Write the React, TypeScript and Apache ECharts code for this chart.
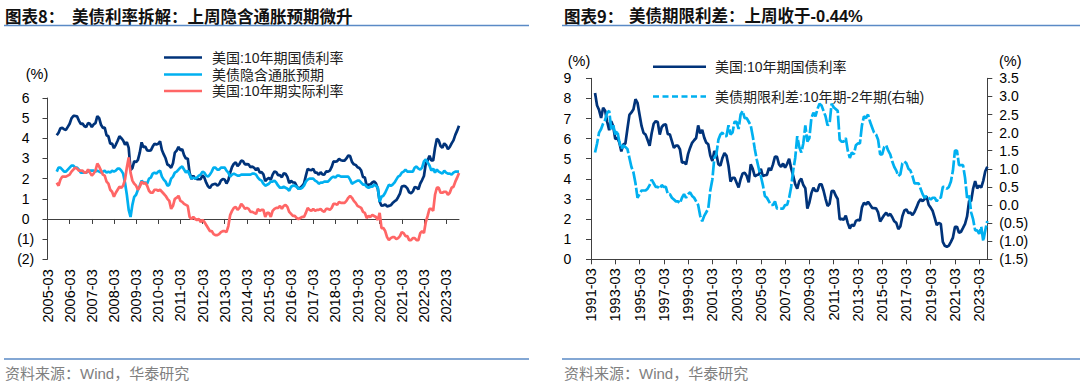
import React, { useEffect, useRef } from "react";
import * as echarts from "echarts";

function buildLabels(y0: number, m0: number, n: number, step: number): string[] {
  const out: string[] = [];
  let y = y0;
  let m = m0;
  for (let i = 0; i < n; i++) {
    out.push(`${y}-${String(m).padStart(2, "0")}`);
    m += step;
    while (m > 12) {
      m -= 12;
      y += 1;
    }
  }
  return out;
}

// ---------- Left chart: monthly, 2005-03 .. 2023-10 ----------
const leftDates = buildLabels(2005, 3, 224, 1);

const us10yLeft = [
  null, null, null, null, null, 4.15, 4.28, 4.50, 4.52, 4.45,
  4.42, 4.57, 4.72, 4.99, 5.11, 5.11, 5.09, 4.88, 4.72, 4.73, 4.60, 4.56,
  4.76, 4.72, 4.56, 4.69, 4.75, 5.10, 5.00, 4.67, 4.52, 4.53, 4.15, 4.10,
  3.74, 3.74, 3.51, 3.68, 3.88, 4.10, 4.01, 3.89, 3.69, 3.81, 3.53, 2.42,
  2.52, 2.87, 2.82, 2.93, 3.29, 3.80, 3.56, 3.59, 3.40, 3.39, 3.40, 3.59,
  3.73, 3.69, 3.73, 3.85, 3.42, 3.20, 3.01, 2.70, 2.65, 2.54, 2.76, 3.29,
  3.39, 3.58, 3.41, 3.46, 3.17, 3.00, 3.00, 2.30, 1.98, 2.15, 2.01, 1.98,
  1.97, 1.97, 2.17, 2.05, 1.80, 1.62, 1.53, 1.68, 1.72, 1.75, 1.65, 1.72,
  1.91, 1.98, 1.96, 1.76, 1.93, 2.30, 2.58, 2.74, 2.81, 2.62, 2.72, 2.90,
  2.86, 2.71, 2.72, 2.71, 2.56, 2.60, 2.54, 2.42, 2.53, 2.30, 2.33, 2.21,
  1.88, 1.98, 2.04, 1.94, 2.20, 2.36, 2.32, 2.17, 2.17, 2.07, 2.26, 2.24,
  2.09, 1.78, 1.89, 1.81, 1.81, 1.64, 1.50, 1.56, 1.63, 1.76, 2.14, 2.49,
  2.43, 2.42, 2.48, 2.30, 2.30, 2.19, 2.32, 2.21, 2.20, 2.36, 2.35, 2.40,
  2.58, 2.86, 2.84, 2.87, 2.98, 2.91, 2.89, 2.89, 3.00, 3.15, 3.12, 2.83,
  2.71, 2.68, 2.57, 2.53, 2.40, 2.07, 2.06, 1.63, 1.70, 1.71, 1.81, 1.86,
  1.76, 1.50, 0.87, 0.66, 0.67, 0.73, 0.62, 0.65, 0.68, 0.79, 0.87, 0.93,
  1.08, 1.26, 1.61, 1.64, 1.62, 1.52, 1.32, 1.28, 1.37, 1.58, 1.56, 1.47,
  1.76, 1.93, 2.13, 2.75, 2.90, 3.14, 2.90, 2.90, 3.52, 3.98, 3.89, 3.62,
  3.53, 3.75, 3.66, 3.46, 3.57, 3.75, 3.90, 4.17, 4.38, 4.62,
];

const breakevenLeft = [
  null, null, null, null, null, 2.35, 2.55, 2.55, 2.45, 2.35,
  2.35, 2.45, 2.55, 2.65, 2.65, 2.55, 2.55, 2.45, 2.30, 2.30, 2.30, 2.30,
  2.35, 2.40, 2.40, 2.40, 2.35, 2.40, 2.35, 2.30, 2.35, 2.40, 2.30, 2.35,
  2.30, 2.40, 2.35, 2.40, 2.50, 2.50, 2.40, 2.25, 1.80, 1.20, 0.45, 0.10,
  0.70, 1.10, 1.20, 1.45, 1.65, 1.90, 1.80, 1.80, 1.75, 2.00, 2.05, 2.25,
  2.30, 2.25, 2.35, 2.40, 2.10, 1.95, 1.85, 1.65, 1.70, 2.00, 2.10, 2.30,
  2.35, 2.45, 2.55, 2.60, 2.45, 2.30, 2.40, 2.20, 2.00, 2.05, 2.00, 2.05,
  2.15, 2.20, 2.35, 2.30, 2.15, 2.10, 2.20, 2.35, 2.55, 2.55, 2.45, 2.45,
  2.55, 2.55, 2.55, 2.40, 2.30, 2.10, 2.20, 2.25, 2.20, 2.15, 2.15, 2.20,
  2.20, 2.20, 2.20, 2.20, 2.20, 2.25, 2.25, 2.20, 2.05, 1.95, 1.90, 1.75,
  1.65, 1.70, 1.75, 1.85, 1.85, 1.90, 1.80, 1.65, 1.55, 1.55, 1.60, 1.55,
  1.50, 1.40, 1.60, 1.65, 1.65, 1.60, 1.50, 1.50, 1.55, 1.65, 1.85, 1.95,
  2.00, 2.00, 2.00, 1.90, 1.85, 1.75, 1.80, 1.80, 1.85, 1.85, 1.85, 1.95,
  2.05, 2.10, 2.05, 2.15, 2.15, 2.10, 2.10, 2.10, 2.10, 2.10, 1.95, 1.75,
  1.80, 1.85, 1.90, 1.90, 1.80, 1.70, 1.70, 1.60, 1.55, 1.60, 1.60, 1.70,
  1.65, 1.55, 0.85, 1.10, 1.15, 1.30, 1.50, 1.70, 1.65, 1.70, 1.80, 1.95,
  2.10, 2.15, 2.30, 2.35, 2.45, 2.35, 2.35, 2.35, 2.35, 2.55, 2.60, 2.50,
  2.45, 2.55, 2.85, 2.95, 2.80, 2.65, 2.40, 2.50, 2.30, 2.45, 2.35, 2.30,
  2.25, 2.40, 2.30, 2.25, 2.25, 2.20, 2.30, 2.35, 2.35, 2.35,
];

const realLeft = [
  null, null, null, null, null, 1.80, 1.65, 1.95, 2.10, 2.10,
  2.10, 2.15, 2.20, 2.35, 2.45, 2.55, 2.50, 2.40, 2.40, 2.40, 2.30, 2.30,
  2.45, 2.30, 2.15, 2.25, 2.40, 2.75, 2.60, 2.40, 2.20, 2.15, 1.85, 1.75,
  1.45, 1.35, 1.10, 1.30, 1.45, 1.60, 1.55, 1.65, 1.95, 2.55, 3.05, 2.30,
  1.90, 1.75, 1.65, 1.45, 1.60, 1.85, 1.75, 1.80, 1.65, 1.40, 1.30, 1.30,
  1.45, 1.45, 1.40, 1.45, 1.35, 1.25, 1.15, 1.00, 0.90, 0.50, 0.65, 1.00,
  1.05, 1.15, 0.90, 0.85, 0.75, 0.70, 0.65, 0.10, 0.00, 0.10, 0.00, -0.05,
  0.00, -0.15, -0.05, -0.15, -0.30, -0.45, -0.60, -0.60, -0.75, -0.80, -0.80, -0.75,
  -0.65, -0.60, -0.60, -0.65, -0.35, 0.20, 0.40, 0.55, 0.60, 0.45, 0.55, 0.75,
  0.65, 0.50, 0.55, 0.50, 0.35, 0.35, 0.30, 0.25, 0.50, 0.40, 0.45, 0.45,
  0.10, 0.30, 0.30, 0.10, 0.40, 0.50, 0.55, 0.55, 0.65, 0.50, 0.65, 0.70,
  0.60, 0.35, 0.25, 0.15, 0.15, 0.05, 0.00, 0.05, 0.10, 0.10, 0.30, 0.55,
  0.45, 0.40, 0.50, 0.40, 0.45, 0.45, 0.50, 0.40, 0.35, 0.50, 0.50, 0.45,
  0.55, 0.75, 0.75, 0.70, 0.85, 0.80, 0.80, 0.80, 0.90, 1.05, 1.15, 1.05,
  0.90, 0.80, 0.65, 0.60, 0.55, 0.35, 0.30, 0.05, 0.15, 0.10, 0.20, 0.15,
  0.10, -0.05, 0.30, -0.45, -0.45, -0.60, -0.90, -1.05, -0.95, -0.90, -0.90, -1.00,
  -0.95, -0.85, -0.65, -0.70, -0.85, -0.85, -1.05, -1.05, -0.95, -0.95, -1.05, -1.05,
  -0.70, -0.60, -0.70, -0.15, 0.15, 0.50, 0.50, 0.40, 1.20, 1.55, 1.55, 1.30,
  1.30, 1.35, 1.35, 1.20, 1.30, 1.55, 1.60, 1.85, 2.05, 2.28,
];

// ---------- Right chart: every two months, 1991-03 .. 2023-11 ----------
const rightDates = buildLabels(1991, 3, 197, 2);

const us10yRight = [
  null, null, 8.27, 7.65, 7.42,
  7.03, 7.54, 7.39, 6.84, 6.42, 6.87,
  6.60, 5.98, 6.04, 5.81, 5.36, 5.72,
  5.75, 6.48, 7.18, 7.30, 7.46, 7.96,
  7.78, 7.20, 6.63, 6.28, 6.20, 5.93,
  5.65, 6.27, 6.74, 6.87, 6.83, 6.20,
  6.58, 6.69, 6.71, 6.22, 6.21, 5.88,
  5.54, 5.65, 5.65, 5.46, 4.81, 4.83,
  4.72, 5.23, 5.54, 5.79, 5.92, 6.03,
  6.66, 6.26, 6.44, 6.05, 5.80, 5.72,
  5.16, 4.89, 5.39, 5.24, 4.73, 4.65,
  5.04, 5.28, 5.16, 4.65, 3.87, 4.05,
  4.05, 3.81, 3.57, 3.98, 4.27, 4.30,
  4.15, 3.83, 4.72, 4.50, 4.13, 4.19,
  4.22, 4.50, 4.14, 4.18, 4.20, 4.54,
  4.42, 4.72, 5.11, 5.09, 4.72, 4.60,
  4.76, 4.56, 4.75, 5.00, 4.52, 4.15,
  3.74, 3.51, 3.88, 4.01, 3.69, 3.53,
  2.52, 2.82, 3.29, 3.56, 3.40, 3.40,
  3.73, 3.73, 3.42, 3.01, 2.65, 2.76,
  3.39, 3.41, 3.17, 3.00, 1.98, 2.01,
  1.97, 2.17, 1.80, 1.53, 1.72, 1.65,
  1.91, 1.96, 1.93, 2.58, 2.81, 2.72,
  2.86, 2.72, 2.56, 2.54, 2.53, 2.33,
  1.88, 2.04, 2.20, 2.32, 2.17, 2.26,
  2.09, 1.89, 1.81, 1.50, 1.63, 2.14,
  2.43, 2.48, 2.30, 2.32, 2.20, 2.35,
  2.58, 2.84, 2.98, 2.89, 3.00, 3.12,
  2.71, 2.57, 2.40, 2.06, 1.70, 1.81,
  1.76, 0.87, 0.67, 0.62, 0.68, 0.87,
  1.08, 1.61, 1.62, 1.32, 1.37, 1.56,
  1.76, 2.13, 2.90, 2.90, 3.52, 3.89,
  3.53, 3.66, 3.57, 3.90, 4.38, 4.60,
];

const spreadRight = [
  null, null, 1.45, 1.70, 2.00,
  2.10, 2.25, 2.35, 2.55, 2.60, 2.10,
  2.20, 1.95, 2.05, 1.75, 1.55, 1.65,
  1.60, 1.55, 1.30, 1.05, 0.90, 0.60,
  0.20, 0.30, 0.40, 0.40, 0.40, 0.45,
  0.55, 0.70, 0.60, 0.50, 0.50, 0.45,
  0.55, 0.50, 0.50, 0.30, 0.30, 0.20,
  0.15, 0.10, 0.10, 0.05, 0.20, 0.30,
  0.20, 0.30, 0.35, 0.25, 0.20, 0.10,
  0.00, -0.30, -0.45, -0.30, -0.20, -0.10,
  0.40, 0.70, 1.30, 1.40, 1.80, 1.95,
  2.00, 1.90, 1.90, 2.20, 1.95, 2.00,
  2.30, 2.30, 2.10, 2.50, 2.60, 2.40,
  2.40, 2.30, 2.20, 1.90, 1.55, 1.25,
  1.00, 0.80, 0.55, 0.25, 0.20, 0.10,
  0.00, 0.00, 0.10, -0.10, -0.10, -0.10,
  -0.10, 0.00, 0.00, 0.20, 0.50, 0.95,
  1.30, 1.90, 1.60, 1.45, 1.70, 2.20,
  1.75, 1.85, 2.40, 2.55, 2.45, 2.65,
  2.80, 2.75, 2.60, 2.45, 2.20, 2.25,
  2.80, 2.70, 2.65, 2.60, 1.80, 1.75,
  1.75, 1.85, 1.50, 1.30, 1.45, 1.40,
  1.65, 1.70, 1.70, 2.20, 2.45, 2.40,
  2.50, 2.30, 2.15, 2.00, 1.95, 1.80,
  1.40, 1.40, 1.60, 1.65, 1.50, 1.40,
  1.20, 1.05, 0.95, 0.80, 0.85, 1.15,
  1.20, 1.15, 1.00, 0.95, 0.80, 0.60,
  0.60, 0.60, 0.45, 0.30, 0.20, 0.25,
  0.20, 0.15, 0.20, 0.20, 0.10, 0.20,
  0.20, 0.50, 0.50, 0.45, 0.50, 0.65,
  0.95, 1.50, 1.50, 1.10, 1.10, 1.10,
  0.75, 0.20, 0.30, -0.20, -0.40, -0.70,
  -0.70, -0.80, -0.60, -1.00, -0.70, -0.44,
];

const NAVY = "#00337a";
const SKY = "#00b0f0";
const SALMON = "#ff6666";
const AXIS = "#404040";
const LATIN = "'Liberation Sans', Arial, sans-serif";
const MIXED = "'Liberation Sans', 'Noto Sans CJK SC', sans-serif";
const CJK = "'Noto Sans CJK SC', sans-serif";
const RULE = "#5a8ac6";

const parenInt = (v: number) => (v < 0 ? `(${Math.abs(v)})` : `${v}`);
const parenOne = (v: number) => (v < 0 ? `(${Math.abs(v).toFixed(1)})` : v.toFixed(1));

function txt(text: string, x: number, y: number, font: string, fill: string, align = "left") {
  return {
    type: "text",
    x,
    y,
    silent: true,
    style: {
      text,
      font,
      fill,
      align,
      verticalAlign: "middle",
      textAlign: align,
      textVerticalAlign: "middle",
    },
  };
}

function seg(x1: number, y1: number, x2: number, y2: number, stroke: string, lineWidth: number, lineDash?: number[]) {
  return {
    type: "line",
    silent: true,
    shape: { x1, y1, x2, y2 },
    style: { stroke, lineWidth, lineDash },
  };
}

export default function App() {
  const ref = useRef<HTMLDivElement>(null);

  useEffect(() => {
    if (!ref.current) return;
    const chart = echarts.init(ref.current, undefined, { renderer: "svg" });
    const yearly = (i: number) => i % 12 === 0;
    const axisLine = { show: true, lineStyle: { color: AXIS, width: 1 } };
    const labelBase = { color: "#000", fontFamily: LATIN };

    const option: any = {
      animation: false,
      backgroundColor: "#fff",
      grid: [
        { left: 47.5, top: 98, width: 411.5, height: 161.3, containLabel: false },
        { left: 591, top: 78.3, width: 396.3, height: 181, containLabel: false },
      ],
      xAxis: [
        {
          type: "category",
          gridIndex: 0,
          data: leftDates,
          boundaryGap: false,
          position: "bottom",
          axisLine: { show: false, onZero: false },
          axisTick: { show: false },
          splitLine: { show: false },
          axisLabel: { ...labelBase, interval: yearly, rotate: 90, margin: 10, fontSize: 14.5 },
        },
        {
          type: "category",
          gridIndex: 0,
          data: leftDates,
          boundaryGap: false,
          position: "bottom",
          axisLine: { ...axisLine, onZero: true },
          axisTick: { show: true, interval: yearly, length: 5, lineStyle: { color: AXIS } },
          splitLine: { show: false },
          axisLabel: { show: false },
        },
        {
          type: "category",
          gridIndex: 1,
          data: rightDates,
          boundaryGap: false,
          position: "bottom",
          axisLine: { ...axisLine, onZero: false },
          axisTick: { show: true, interval: yearly, length: 5, lineStyle: { color: AXIS } },
          splitLine: { show: false },
          axisLabel: { ...labelBase, interval: yearly, rotate: 90, margin: 9, fontSize: 14.5 },
        },
      ],
      yAxis: [
        {
          type: "value",
          gridIndex: 0,
          min: -2,
          max: 6,
          interval: 1,
          axisLine,
          axisTick: { show: true, length: 5, lineStyle: { color: AXIS } },
          splitLine: { show: false },
          axisLabel: { ...labelBase, fontSize: 14, align: "center", margin: 21.8, formatter: parenInt },
        },
        {
          type: "value",
          gridIndex: 1,
          position: "left",
          min: 0,
          max: 9,
          interval: 1,
          axisLine,
          axisTick: { show: true, length: 5, lineStyle: { color: AXIS } },
          splitLine: { show: false },
          axisLabel: { ...labelBase, fontSize: 14, align: "center", margin: 23.5, formatter: parenInt },
        },
        {
          type: "value",
          gridIndex: 1,
          position: "right",
          min: -1.5,
          max: 3.5,
          interval: 0.5,
          axisLine,
          axisTick: { show: true, length: 5, lineStyle: { color: AXIS } },
          splitLine: { show: false },
          axisLabel: { ...labelBase, fontSize: 14, align: "left", margin: 12, formatter: parenOne },
        },
      ],
      series: [
        {
          name: "美国:10年期国债利率",
          type: "line",
          xAxisIndex: 0,
          yAxisIndex: 0,
          data: us10yLeft,
          showSymbol: false,
          symbol: "none",
          lineStyle: { color: NAVY, width: 2.7 },
          itemStyle: { color: NAVY },
          z: 2,
        },
        {
          name: "美债隐含通胀预期",
          type: "line",
          xAxisIndex: 0,
          yAxisIndex: 0,
          data: breakevenLeft,
          showSymbol: false,
          symbol: "none",
          lineStyle: { color: SKY, width: 2.7 },
          itemStyle: { color: SKY },
          z: 3,
        },
        {
          name: "美国:10年期实际利率",
          type: "line",
          xAxisIndex: 0,
          yAxisIndex: 0,
          data: realLeft,
          showSymbol: false,
          symbol: "none",
          lineStyle: { color: SALMON, width: 2.7 },
          itemStyle: { color: SALMON },
          z: 4,
        },
        {
          name: "美国:10年期国债利率(右图)",
          type: "line",
          xAxisIndex: 2,
          yAxisIndex: 1,
          data: us10yRight,
          showSymbol: false,
          symbol: "none",
          lineStyle: { color: NAVY, width: 2.7 },
          itemStyle: { color: NAVY },
          z: 2,
        },
        {
          name: "美债期限利差:10年期-2年期(右轴)",
          type: "line",
          xAxisIndex: 2,
          yAxisIndex: 2,
          data: spreadRight,
          showSymbol: false,
          symbol: "none",
          lineStyle: { color: SKY, width: 2.7, type: [14, 2.5] },
          itemStyle: { color: SKY },
          z: 3,
        },
      ],
      graphic: [
        // titles
        txt("图表8：", 5, 15.5, `bold 16.5px ${CJK}`, "#111"),
        txt("美债利率拆解：上周隐含通胀预期微升", 72, 15.5, `bold 16.5px ${CJK}`, "#111"),
        seg(4, 25.5, 529, 25.5, RULE, 1.3),
        txt("图表9：", 564, 15.5, `bold 16.5px ${CJK}`, "#111"),
        txt("美债期限利差：上周收于-0.44%", 629, 15.5, `bold 16.5px ${MIXED}`, "#111"),
        seg(562, 25.5, 1080, 25.5, RULE, 1.3),
        // left legend
        seg(164, 57.5, 202, 57.5, NAVY, 2.5),
        txt("美国:10年期国债利率", 212, 57.5, `14px ${MIXED}`, "#222"),
        seg(164, 74.5, 202, 74.5, SKY, 2.5),
        txt("美债隐含通胀预期", 212, 74.5, `14px ${MIXED}`, "#222"),
        seg(164, 91, 202, 91, SALMON, 2.5),
        txt("美国:10年期实际利率", 212, 91, `14px ${MIXED}`, "#222"),
        // right legend
        seg(653, 66.7, 706, 66.7, NAVY, 2.5),
        txt("美国:10年期国债利率", 715, 66.7, `14px ${MIXED}`, "#222"),
        seg(653, 96.5, 706, 96.5, SKY, 2.5, [6, 3.5]),
        txt("美债期限利差:10年期-2年期(右轴)", 715, 96.5, `14px ${MIXED}`, "#222"),
        // unit labels
        txt("(%)", 37, 73.5, `14.5px ${LATIN}`, "#000", "center"),
        txt("(%)", 579, 61, `14.5px ${LATIN}`, "#000", "center"),
        txt("(%)", 999, 61, `14.5px ${LATIN}`, "#000", "left"),
        // footers
        seg(4, 359, 529, 359, RULE, 1.3),
        txt("资料来源：Wind，华泰研究", 5, 373, `15px ${MIXED}`, "#808080"),
        seg(562, 359, 1080, 359, RULE, 1.3),
        txt("资料来源：Wind，华泰研究", 564, 373, `15px ${MIXED}`, "#808080"),
      ],
    };

    chart.setOption(option);
    return () => {
      chart.dispose();
    };
  }, []);

  return (
    <div
      ref={ref}
      style={{ position: "absolute", left: 0, top: 0, width: 1080, height: 386, background: "#fff" }}
    />
  );
}
